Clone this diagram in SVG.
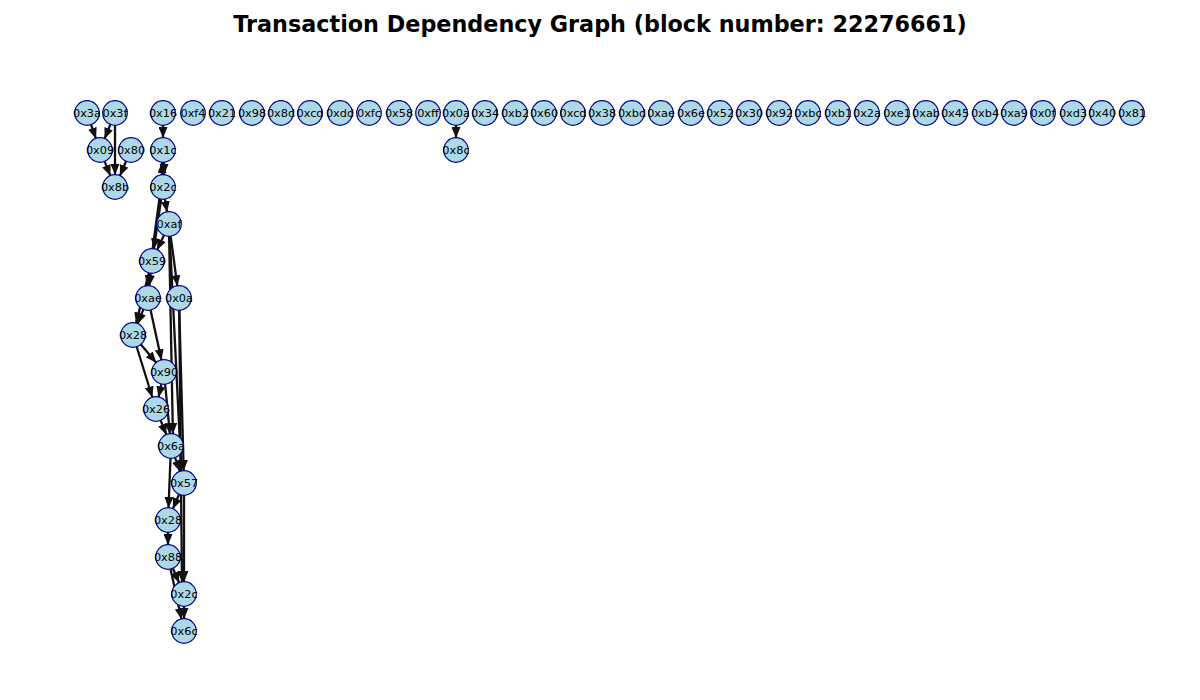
<svg xmlns="http://www.w3.org/2000/svg" width="1200" height="700" viewBox="0 0 1200 700">
<defs>
<marker id="ah" markerUnits="userSpaceOnUse" markerWidth="11" markerHeight="9" refX="11" refY="4.5" orient="auto">
<path d="M0,0 L11,4.5 L0,9 z" fill="#111"/>
</marker>
<style>
.e{stroke:#111;stroke-width:2.3;fill:none;marker-end:url(#ah)}
.n circle{fill:#add8e6;stroke:#00008b;stroke-width:1.2}
.n text{font-family:"DejaVu Sans",sans-serif;font-size:11.3px;fill:#000;text-anchor:middle;dominant-baseline:central}
.t{font-family:"DejaVu Sans",sans-serif;font-size:22.3px;font-weight:bold;text-anchor:middle}
</style>
</defs>
<rect width="1200" height="700" fill="#fff"/>
<text class="t" x="600" y="32">Transaction Dependency Graph (block number: 22276661)</text>
<g id="edges">
<line class="e" x1="91" y1="124.3" x2="96" y2="138.7"/>
<line class="e" x1="110.5" y1="124.1" x2="104.5" y2="138.9"/>
<line class="e" x1="115" y1="125" x2="115" y2="175"/>
<line class="e" x1="104.5" y1="161.1" x2="110.5" y2="175.9"/>
<line class="e" x1="126.2" y1="161" x2="119.8" y2="176"/>
<line class="e" x1="163" y1="125" x2="163" y2="138"/>
<line class="e" x1="164" y1="162" x2="164" y2="175"/>
<line class="e" x1="162" y1="175" x2="162" y2="162"/>
<line class="e" x1="164.9" y1="198.8" x2="167.1" y2="212.2"/>
<line class="e" x1="161.2" y1="198.9" x2="153.8" y2="249.1"/>
<line class="e" x1="164" y1="234.9" x2="157" y2="250.1"/>
<line class="e" x1="170.6" y1="235.9" x2="177.4" y2="286.1"/>
<line class="e" x1="150.7" y1="272.9" x2="149.3" y2="286.1"/>
<line class="e" x1="159.4" y1="198.9" x2="147.6" y2="286.1"/>
<line class="e" x1="143.5" y1="309.1" x2="137.5" y2="323.9"/>
<line class="e" x1="149" y1="272.6" x2="136" y2="323.4"/>
<line class="e" x1="140.7" y1="344.2" x2="156.3" y2="362.8"/>
<line class="e" x1="150.5" y1="309.7" x2="161.5" y2="360.3"/>
<line class="e" x1="161.5" y1="383.7" x2="158.5" y2="397.3"/>
<line class="e" x1="136.6" y1="346.5" x2="152.4" y2="397.5"/>
<line class="e" x1="160.5" y1="420.1" x2="166.5" y2="434.9"/>
<line class="e" x1="165.1" y1="384" x2="169.9" y2="434"/>
<line class="e" x1="169.1" y1="236" x2="172.9" y2="434"/>
<line class="e" x1="175" y1="457.3" x2="180" y2="471.7"/>
<line class="e" x1="179.3" y1="310" x2="183.7" y2="471"/>
<line class="e" x1="169.7" y1="236" x2="181.3" y2="471"/>
<line class="e" x1="170.5" y1="458" x2="168.5" y2="508"/>
<line class="e" x1="179.2" y1="494" x2="172.8" y2="509"/>
<line class="e" x1="168" y1="532" x2="168" y2="545"/>
<line class="e" x1="172.8" y1="568" x2="179.2" y2="583"/>
<line class="e" x1="184" y1="495" x2="184" y2="582"/>
<line class="e" x1="179.2" y1="310" x2="182" y2="582"/>
<line class="e" x1="184" y1="606" x2="184" y2="619"/>
<line class="e" x1="170.5" y1="568.7" x2="181.5" y2="619.3"/>
<line class="e" x1="456" y1="125" x2="456" y2="138"/>
</g>
<g id="n_3a" class="n"><circle cx="87" cy="113" r="12.3"/><text x="87" y="113">0x3a</text></g>
<g id="n_3f" class="n"><circle cx="115" cy="113" r="12.3"/><text x="115" y="113">0x3f</text></g>
<g id="n_16" class="n"><circle cx="163" cy="113" r="12.3"/><text x="163" y="113">0x16</text></g>
<g id="n_f4" class="n"><circle cx="193" cy="113" r="12.3"/><text x="193" y="113">0xf4</text></g>
<g id="n_21" class="n"><circle cx="222" cy="113" r="12.3"/><text x="222" y="113">0x21</text></g>
<g id="n_98" class="n"><circle cx="252" cy="113" r="12.3"/><text x="252" y="113">0x98</text></g>
<g id="n_8d" class="n"><circle cx="281" cy="113" r="12.3"/><text x="281" y="113">0x8d</text></g>
<g id="n_cd1" class="n"><circle cx="310" cy="113" r="12.3"/><text x="310" y="113">0xcd</text></g>
<g id="n_dd" class="n"><circle cx="340" cy="113" r="12.3"/><text x="340" y="113">0xdd</text></g>
<g id="n_fc" class="n"><circle cx="369" cy="113" r="12.3"/><text x="369" y="113">0xfc</text></g>
<g id="n_58" class="n"><circle cx="399" cy="113" r="12.3"/><text x="399" y="113">0x58</text></g>
<g id="n_ff" class="n"><circle cx="428" cy="113" r="12.3"/><text x="428" y="113">0xff</text></g>
<g id="n_0a1" class="n"><circle cx="456" cy="113" r="12.3"/><text x="456" y="113">0x0a</text></g>
<g id="n_34" class="n"><circle cx="485" cy="113" r="12.3"/><text x="485" y="113">0x34</text></g>
<g id="n_b2" class="n"><circle cx="515" cy="113" r="12.3"/><text x="515" y="113">0xb2</text></g>
<g id="n_60" class="n"><circle cx="544" cy="113" r="12.3"/><text x="544" y="113">0x60</text></g>
<g id="n_cd2" class="n"><circle cx="573" cy="113" r="12.3"/><text x="573" y="113">0xcd</text></g>
<g id="n_38" class="n"><circle cx="602" cy="113" r="12.3"/><text x="602" y="113">0x38</text></g>
<g id="n_bd1" class="n"><circle cx="632" cy="113" r="12.3"/><text x="632" y="113">0xbd</text></g>
<g id="n_ae1" class="n"><circle cx="661" cy="113" r="12.3"/><text x="661" y="113">0xae</text></g>
<g id="n_6e" class="n"><circle cx="691" cy="113" r="12.3"/><text x="691" y="113">0x6e</text></g>
<g id="n_52" class="n"><circle cx="720" cy="113" r="12.3"/><text x="720" y="113">0x52</text></g>
<g id="n_30" class="n"><circle cx="749" cy="113" r="12.3"/><text x="749" y="113">0x30</text></g>
<g id="n_92" class="n"><circle cx="779" cy="113" r="12.3"/><text x="779" y="113">0x92</text></g>
<g id="n_bc" class="n"><circle cx="808" cy="113" r="12.3"/><text x="808" y="113">0xbc</text></g>
<g id="n_b1" class="n"><circle cx="838" cy="113" r="12.3"/><text x="838" y="113">0xb1</text></g>
<g id="n_2a" class="n"><circle cx="867" cy="113" r="12.3"/><text x="867" y="113">0x2a</text></g>
<g id="n_e1" class="n"><circle cx="897" cy="113" r="12.3"/><text x="897" y="113">0xe1</text></g>
<g id="n_ab" class="n"><circle cx="926" cy="113" r="12.3"/><text x="926" y="113">0xab</text></g>
<g id="n_45" class="n"><circle cx="955" cy="113" r="12.3"/><text x="955" y="113">0x45</text></g>
<g id="n_b4" class="n"><circle cx="985" cy="113" r="12.3"/><text x="985" y="113">0xb4</text></g>
<g id="n_a9" class="n"><circle cx="1014" cy="113" r="12.3"/><text x="1014" y="113">0xa9</text></g>
<g id="n_0f" class="n"><circle cx="1043" cy="113" r="12.3"/><text x="1043" y="113">0x0f</text></g>
<g id="n_d3" class="n"><circle cx="1073" cy="113" r="12.3"/><text x="1073" y="113">0xd3</text></g>
<g id="n_40" class="n"><circle cx="1102" cy="113" r="12.3"/><text x="1102" y="113">0x40</text></g>
<g id="n_81" class="n"><circle cx="1132" cy="113" r="12.3"/><text x="1132" y="113">0x81</text></g>
<g id="n_09" class="n"><circle cx="100" cy="150" r="12.3"/><text x="100" y="150">0x09</text></g>
<g id="n_80" class="n"><circle cx="131" cy="150" r="12.3"/><text x="131" y="150">0x80</text></g>
<g id="n_1c" class="n"><circle cx="163" cy="150" r="12.3"/><text x="163" y="150">0x1c</text></g>
<g id="n_8c" class="n"><circle cx="456" cy="150" r="12.3"/><text x="456" y="150">0x8c</text></g>
<g id="n_8b" class="n"><circle cx="115" cy="187" r="12.3"/><text x="115" y="187">0x8b</text></g>
<g id="n_2c1" class="n"><circle cx="163" cy="187" r="12.3"/><text x="163" y="187">0x2c</text></g>
<g id="n_af" class="n"><circle cx="169" cy="224" r="12.3"/><text x="169" y="224">0xaf</text></g>
<g id="n_59" class="n"><circle cx="152" cy="261" r="12.3"/><text x="152" y="261">0x59</text></g>
<g id="n_ae2" class="n"><circle cx="148" cy="298" r="12.3"/><text x="148" y="298">0xae</text></g>
<g id="n_0a2" class="n"><circle cx="179" cy="298" r="12.3"/><text x="179" y="298">0x0a</text></g>
<g id="n_28a" class="n"><circle cx="133" cy="335" r="12.3"/><text x="133" y="335">0x28</text></g>
<g id="n_90" class="n"><circle cx="164" cy="372" r="12.3"/><text x="164" y="372">0x90</text></g>
<g id="n_26" class="n"><circle cx="156" cy="409" r="12.3"/><text x="156" y="409">0x26</text></g>
<g id="n_6a" class="n"><circle cx="171" cy="446" r="12.3"/><text x="171" y="446">0x6a</text></g>
<g id="n_57" class="n"><circle cx="184" cy="483" r="12.3"/><text x="184" y="483">0x57</text></g>
<g id="n_28b" class="n"><circle cx="168" cy="520" r="12.3"/><text x="168" y="520">0x28</text></g>
<g id="n_88" class="n"><circle cx="168" cy="557" r="12.3"/><text x="168" y="557">0x88</text></g>
<g id="n_2c2" class="n"><circle cx="184" cy="594" r="12.3"/><text x="184" y="594">0x2c</text></g>
<g id="n_6c" class="n"><circle cx="184" cy="631" r="12.3"/><text x="184" y="631">0x6c</text></g>
</svg>
